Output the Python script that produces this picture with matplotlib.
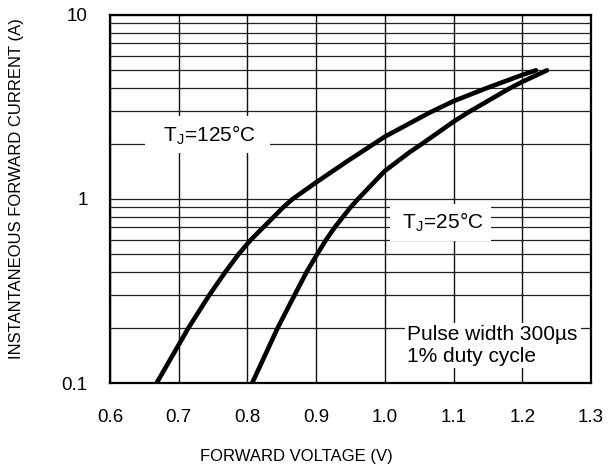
import matplotlib
matplotlib.use("Agg")
import matplotlib.pyplot as plt
from matplotlib.ticker import FixedLocator, NullFormatter

plt.rcParams["font.family"] = ["Liberation Sans", "DejaVu Sans"]
plt.rcParams["mathtext.fontset"] = "custom"
plt.rcParams["mathtext.rm"] = "Liberation Sans"
plt.rcParams["mathtext.it"] = "Liberation Sans"

# Datos (V, A)
v125 = [0.668, 0.7145, 0.7445, 0.7677, 0.787, 0.805, 0.823, 0.8385, 0.852,
        0.866, 0.900, 0.945, 0.9756, 1.000, 1.0655, 1.100, 1.148, 1.200, 1.220]
i125 = [0.10, 0.20, 0.30, 0.40, 0.50, 0.60, 0.70, 0.80, 0.90,
        1.00, 1.23, 1.60, 1.90, 2.18, 2.95, 3.40, 4.00, 4.72, 5.00]

v25 = [0.807, 0.8443, 0.8686, 0.886, 0.9014, 0.9145, 0.927, 0.9392, 0.950,
       0.961, 1.000, 1.0365, 1.053, 1.100, 1.119, 1.179, 1.200, 1.236]
i25 = [0.10, 0.20, 0.30, 0.40, 0.50, 0.60, 0.70, 0.80, 0.90,
       1.00, 1.42, 1.80, 1.98, 2.63, 2.92, 3.94, 4.33, 5.00]

x_ticks = [0.6, 0.7, 0.8, 0.9, 1.0, 1.1, 1.2, 1.3]
x_labels = ["0.6", "0.7", "0.8", "0.9", "1.0", "1.1", "1.2", "1.3"]
y_ticks = [0.1, 1, 10]
y_labels = ["0.1", "1", "10"]
y_minor = [k * d for d in (0.1, 1) for k in range(2, 10)]

fig = plt.figure(figsize=(6.14, 4.66), dpi=100)
ax = fig.add_axes([0.179, 0.178, 0.7835, 0.79])

ax.set_yscale("log")
ax.set_xlim(0.6, 1.3)
ax.set_ylim(0.1, 10)

ax.set_xticks(x_ticks)
ax.set_xticklabels(x_labels)
ax.set_yticks(y_ticks)
ax.set_yticklabels(y_labels)
ax.yaxis.set_minor_locator(FixedLocator(y_minor))
ax.yaxis.set_minor_formatter(NullFormatter())
ax.tick_params(which="both", length=0, labelsize=13.5)
ax.tick_params(axis="x", pad=19)
ax.tick_params(axis="y", pad=16)

ax.grid(True, which="major", axis="x", color="#111111", lw=1.0)
ax.grid(True, which="both", axis="y", color="#222222", lw=0.9)
ax.set_axisbelow(True)

for s in ax.spines.values():
    s.set_linewidth(1.6)
    s.set_color("black")

ax.plot(v125, i125, color="black", lw=3.3, solid_capstyle="round", solid_joinstyle="round")
ax.plot(v25, i25, color="black", lw=3.3, solid_capstyle="round", solid_joinstyle="round")

ax.text(0.742, 2.23, r"  T$_\mathrm{J}$=125°C  ", fontsize=15, ha="center", va="center",
        bbox=dict(facecolor="white", edgecolor="none", pad=5))
ax.text(1.081, 0.743, r" T$_\mathrm{J}$=25°C ", fontsize=15, ha="center", va="center",
        bbox=dict(facecolor="white", edgecolor="none", pad=5))
ax.text(1.033, 0.16, "Pulse width 300µs\n1% duty cycle", fontsize=15, ha="left", va="center",
        linespacing=1.15, bbox=dict(facecolor="white", edgecolor="none", pad=2))

fig.text(296 / 614, 1 - 456 / 466, "FORWARD VOLTAGE (V)", fontsize=12, ha="center", va="center")
fig.text(17 / 614, 1 - 189 / 466, "INSTANTANEOUS FORWARD CURRENT (A)", fontsize=12,
         ha="center", va="center", rotation=90)

fig.savefig("out.png", dpi=100)
